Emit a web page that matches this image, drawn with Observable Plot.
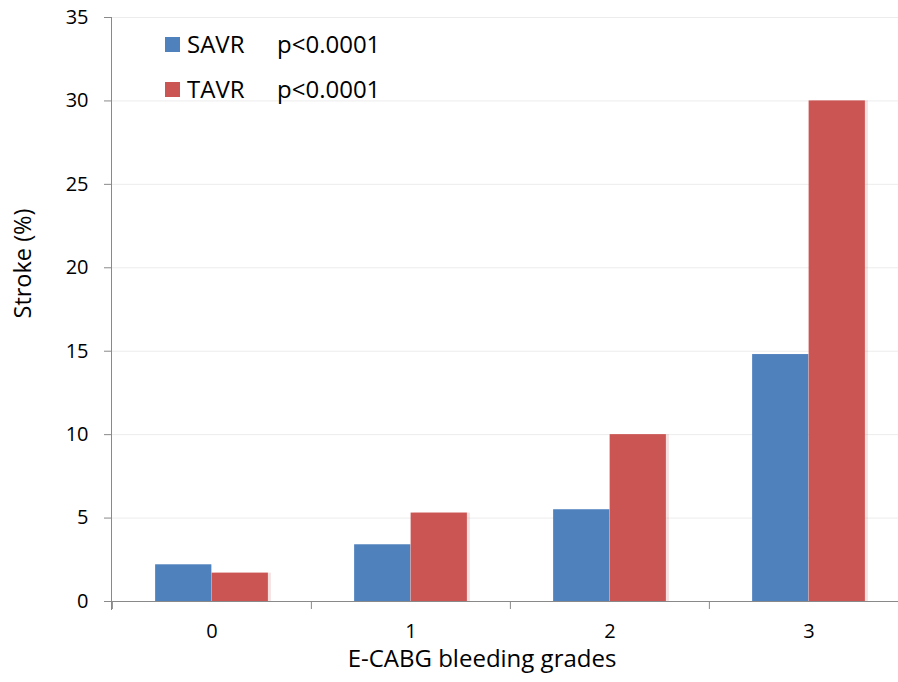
<!DOCTYPE html>
<html>
<head>
<meta charset="utf-8">
<script src="https://cdn.jsdelivr.net/npm/d3@7"></script>
<script src="https://cdn.jsdelivr.net/npm/@observablehq/plot@0.6"></script>
<style>
  html, body { margin: 0; padding: 0; background: #fff; }
  #wrap { position: relative; width: 898px; height: 682px; overflow: hidden; font-family: "Open Sans", sans-serif; }
  .legend { position: absolute; left: 165px; font-size: 24px; color: #000; display: flex; align-items: center; line-height: 1; }
  .legend .sw { width: 15px; height: 15px; margin-right: 7px; }
  .legend .name { width: 90px; }
</style>
</head>
<body>
<div id="wrap"></div>
<script>
const grades = ["0", "1", "2", "3"];
const seriesNames = ["SAVR", "TAVR"];
const savr = [2.2, 3.4, 5.5, 14.8];
const tavr = [1.7, 5.3, 10.0, 30.0];
const pValues = ["p<0.0001", "p<0.0001"];
const yTicks = [0, 5, 10, 15, 20, 25, 30, 35];
const colors = ["#4F81BD", "#CB5552"];
const xTitle = "E-CABG bleeding grades";
const yTitle = "Stroke (%)";

const data = [];
grades.forEach((g, i) => {
  data.push({grade: g, series: "SAVR", value: savr[i]});
  data.push({grade: g, series: "TAVR", value: tavr[i]});
});

const W = 898, H = 682;
const mL = 111, mR = -10, mT = 17, mB = 81;
const band = (W - mR - mL) / grades.length;
const barW = 56.5;
const outer = (band - 2 * barW) / 2;
const axisColor = "#898989";

const chart = Plot.plot({
  width: W,
  height: H,
  marginLeft: mL,
  marginRight: mR,
  marginTop: mT,
  marginBottom: mB,
  style: {fontFamily: "Open Sans, sans-serif", fontSize: "20px", color: "#000", background: "#fff"},
  x: {domain: grades, padding: 0, axis: null},
  y: {domain: [0, 35], axis: null},
  color: {domain: seriesNames, range: colors},
  marks: [
    Plot.gridY(yTicks.filter(d => d > 0), {stroke: "#ececec", strokeOpacity: 1}),
    Plot.barY(data.filter(d => d.series === "TAVR"), {x: "grade", y: "value", fill: "series", fillOpacity: 0.18,
      insetLeft: band / 2, insetRight: outer, dx: 3}),
    Plot.barY(data.filter(d => d.series === "SAVR"), {x: "grade", y: "value", fill: "series",
      insetLeft: outer, insetRight: band / 2}),
    Plot.barY(data.filter(d => d.series === "TAVR"), {x: "grade", y: "value", fill: "series",
      insetLeft: band / 2, insetRight: outer}),
    Plot.ruleY([0], {stroke: axisColor}),
    Plot.frame({anchor: "left", stroke: axisColor, insetBottom: -8}),
    Plot.axisY({ticks: yTicks, tickSize: 7, tickPadding: 16, stroke: axisColor, label: null, fontSize: 20}),
    Plot.axisX({tickSize: 8, tickFormat: () => "", dx: -band / 2, stroke: axisColor, label: null}),
    Plot.axisX({tickSize: 0, tickPadding: 22, label: null, fontSize: 20}),
    Plot.text([xTitle], {frameAnchor: "bottom", dx: -28, dy: 65, fontSize: 24, fill: "#000"}),
    Plot.text([yTitle], {frameAnchor: "left", rotate: -90, dx: -88, dy: 9, fontSize: 23.5, fill: "#000"})
  ]
});

const wrap = document.getElementById("wrap");
wrap.appendChild(chart);

const legendTop = [44, 89];
seriesNames.forEach((s, i) => {
  const row = document.createElement("div");
  row.className = "legend";
  row.style.top = (legendTop[i] - 12) + "px";
  row.style.height = "24px";
  row.innerHTML = `<span class="sw" style="background:${colors[i]}"></span><span class="name">${s}</span><span>${pValues[i]}</span>`;
  wrap.appendChild(row);
});
</script>
</body>
</html>
